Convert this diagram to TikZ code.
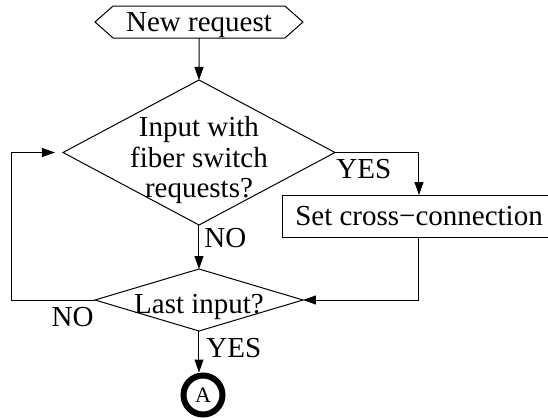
\documentclass[tikz,border=0pt]{standalone}
\usepackage{fontspec}
\setmainfont{Liberation Serif}
\usetikzlibrary{shapes.geometric,shapes.symbols,arrows.meta}
\begin{document}
\begin{tikzpicture}[x=0.5pt,y=-0.5pt]

    \tikzset{
      flow/.style={
        draw,
        line width=0.5pt,
        inner sep=0pt,
        outer sep=0pt,
      },
      decision/.style={flow, diamond},
      txt/.style={inner sep=0pt, font=\fontsize{14.5}{15.25}\selectfont},
      arr/.style={line width=0.5pt, -{Triangle[length=6.5pt,width=4.5pt]}},
    }
    \useasboundingbox (0,0) rectangle (548,418);
	\node[flow, signal, signal to=west and east, signal pointer angle=83, minimum width=104pt, minimum height=16pt, txt, text depth=0pt] (start) at (199,22) {New request};
	\node[decision, minimum width=136pt, minimum height=72.5pt] (d1) at (199,152.5) {};
	\node[txt, align=center] (q1) at (199,160.5) {Input with\\fiber switch\\requests?};
	\node[flow, txt, minimum width=136pt, minimum height=21pt] (set) at (419,216) {Set cross−connection};
	\node[decision, minimum width=104pt, minimum height=31pt] (d2) at (199,300) {};
	\node[txt, anchor=base] (q2) at (199,313) {Last input?};
	\node[draw, circle, line width=3pt, minimum size=19.5pt, inner sep=0pt, font=\fontsize{11}{12}\selectfont] (end) at (203,395) {A};
	\node[txt, anchor=base west] (yes1) at (336,178) {YES};
	\node[txt, anchor=base west] (no1) at (204,247) {NO};
	\node[txt, anchor=base east] (no2) at (94,326) {NO};
	\node[txt, anchor=base west] (yes2) at (206,357) {YES};
	\draw[arr] (start) -- (d1);
	\draw[arr] (d1.east) -| (set.north);
	\draw[arr] (d1.south) -- (d2.north);
	\draw[arr] (set.south) |- (d2.east);
	\draw[arr, shorten >=4pt] (d2.west) -- ++(-83,0) |- (d1.west);
	\draw[arr] (d2.south) -- (d2.south |- end.north);

\end{tikzpicture}
\end{document}
